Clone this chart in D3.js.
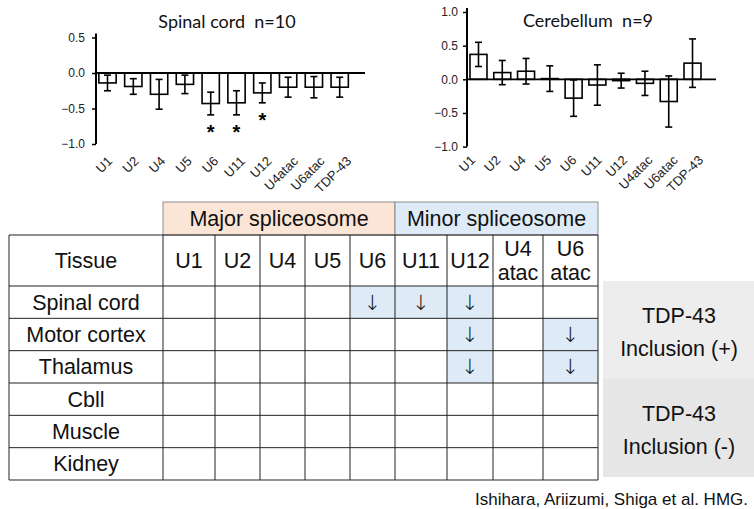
<!DOCTYPE html>
<html>
<head>
<meta charset="utf-8">
<script src="https://cdn.jsdelivr.net/npm/d3@7"></script>
<style>
  body { margin: 0; background: #fff; }
  svg text { font-family: "Liberation Sans", Arimo, Arial, Helvetica, sans-serif; }
  svg text.title { font-family: Lato, "Open Sans", sans-serif; white-space: pre; }
  svg text.arrow { font-family: "DejaVu Sans", sans-serif; }
</style>
</head>
<body>
<div id="chart"></div>
<script>
// --- data ---
const genes = ["U1", "U2", "U4", "U5", "U6", "U11", "U12", "U4atac", "U6atac", "TDP-43"];
const spinalMean = [-0.14, -0.19, -0.30, -0.16, -0.43, -0.42, -0.28, -0.20, -0.20, -0.20];
const spinalErr  = [0.11, 0.11, 0.21, 0.13, 0.16, 0.17, 0.14, 0.14, 0.15, 0.14];
const spinalSig  = [false, false, false, false, true, true, true, false, false, false];
const cbMean = [0.37, 0.10, 0.12, 0.01, -0.28, -0.085, -0.02, -0.06, -0.33, 0.24];
const cbErr  = [0.18, 0.18, 0.19, 0.19, 0.27, 0.30, 0.11, 0.18, 0.38, 0.36];
const spinalTicks = [0.5, 0.0, -0.5, -1.0];
const cbTicks = [1.0, 0.5, 0.0, -0.5, -1.0];

const tableCols = ["U1", "U2", "U4", "U5", "U6", "U11", "U12", "U4\natac", "U6\natac"];
const tissues = ["Spinal cord", "Motor cortex", "Thalamus", "Cbll", "Muscle", "Kidney"];
// which columns show a decrease, per tissue
const decreased = [
  ["U6", "U11", "U12"],
  ["U12", "U6\natac"],
  ["U12", "U6\natac"],
  [], [], []
];
const groups = [
  { name: "Major spliceosome", from: 0, to: 4, fill: "#fbe5d6" },
  { name: "Minor spliceosome", from: 5, to: 8, fill: "#deebf7" }
];
const inclusion = [
  { lines: ["TDP-43", "Inclusion (+)"], fill: "#ededed" },
  { lines: ["TDP-43", "Inclusion (-)"], fill: "#e6e6e6" }
];

const width = 754, height = 509;

const svg = d3.select("#chart").append("svg")
  .attr("width", width).attr("height", height)
  .attr("viewBox", `0 0 ${width} ${height}`);

// --- bar charts ---
function barChart(opt) {
  const g = svg.append("g");
  const x = d3.scaleBand().domain(genes).range(opt.xRange)
    .paddingInner(opt.pad).paddingOuter(opt.pad / 2);
  const xl = d3.scalePoint().domain(genes).range(opt.labelRange);
  const y = d3.scaleLinear().domain(opt.yDomain).range(opt.yRange);

  // y axis
  const yAxis = d3.axisLeft(y).tickValues(opt.ticks).tickFormat(d3.format(".1f"))
    .tickSize(4).tickPadding(opt.tickPad).tickSizeOuter(0);
  const ya = g.append("g").attr("transform", `translate(${opt.xRange[0] - opt.axisGap},0)`).call(yAxis);
  ya.select(".domain").remove();
  ya.attr("font-family", null);
  ya.append("line").attr("x1", 0).attr("x2", 0)
    .attr("y1", y(opt.yDomain[1]) - 4).attr("y2", y(opt.yDomain[0]))
    .attr("stroke", "#000").attr("stroke-width", 2);
  ya.selectAll(".tick line").attr("stroke-width", 1.5);
  ya.selectAll(".tick text").attr("font-size", 12).attr("fill", "#222");

  // bars
  g.selectAll("rect.bar").data(genes).join("rect").attr("class", "bar")
    .attr("x", d => x(d))
    .attr("width", x.bandwidth())
    .attr("y", (d, i) => y(Math.max(0, opt.mean[i])))
    .attr("height", (d, i) => Math.abs(y(opt.mean[i]) - y(0)))
    .attr("fill", "#fff").attr("stroke", "#000").attr("stroke-width", 1.6);

  // zero line
  g.append("line")
    .attr("x1", opt.xRange[0] - opt.axisGap).attr("x2", opt.zeroEnd)
    .attr("y1", y(0)).attr("y2", y(0))
    .attr("stroke", "#000").attr("stroke-width", 1.8);

  // error bars
  const eb = g.selectAll("g.err").data(genes).join("g").attr("class", "err");
  const cx = d => x(d) + x.bandwidth() / 2;
  eb.append("line")
    .attr("x1", cx).attr("x2", cx)
    .attr("y1", (d, i) => y(opt.mean[i] + opt.err[i]))
    .attr("y2", (d, i) => y(opt.mean[i] - opt.err[i]))
    .attr("stroke", "#000").attr("stroke-width", 1.6);
  [1, -1].forEach(s => {
    eb.append("line")
      .attr("x1", d => cx(d) - 3.5).attr("x2", d => cx(d) + 3.5)
      .attr("y1", (d, i) => y(opt.mean[i] + s * opt.err[i]))
      .attr("y2", (d, i) => y(opt.mean[i] + s * opt.err[i]))
      .attr("stroke", "#000").attr("stroke-width", 1.6);
  });

  // significance
  if (opt.sig) {
    g.selectAll("text.sig").data(genes.filter((d, i) => opt.sig[i])).join("text")
      .attr("class", "sig")
      .attr("x", cx)
      .attr("y", d => { const i = genes.indexOf(d); return y(opt.mean[i] - opt.err[i]) + 24; })
      .attr("text-anchor", "middle").attr("font-size", 20).attr("font-weight", "bold")
      .text("*");
  }

  // x labels
  g.selectAll("text.xl").data(genes).join("text").attr("class", "xl")
    .attr("transform", d => `translate(${xl(d)},${opt.labelY}) rotate(-45)`)
    .attr("text-anchor", "end").attr("font-size", 13).attr("fill", "#222")
    .text(d => d);

  g.append("text").attr("class", "title")
    .attr("x", opt.titleX).attr("y", opt.titleY)
    .attr("text-anchor", "middle")
    .attr("font-size", 18).attr("fill", "#111")
    .text(opt.title);
}

barChart({
  mean: spinalMean, err: spinalErr, sig: spinalSig, ticks: spinalTicks,
  xRange: [94.6, 352.6], pad: 0.33, labelRange: [113, 352], labelY: 162,
  yDomain: [-1, 0.5], yRange: [144, 37.5], axisGap: -1.4, tickPad: 7,
  zeroEnd: 365, title: "Spinal cord  n=10", titleX: 227, titleY: 28
});

barChart({
  mean: cbMean, err: cbErr, ticks: cbTicks,
  xRange: [466.6, 704.4], pad: 0.285, labelRange: [476, 704], labelY: 161,
  yDomain: [-1, 1], yRange: [146.6, 12], axisGap: -0.4, tickPad: 5,
  zeroEnd: 716, title: "Cerebellum  n=9", titleX: 588, titleY: 27
});

// --- table ---
const colW = [154, 52, 45, 45, 45, 45, 52, 46, 50, 55];
const colX = [9];
colW.forEach(w => colX.push(colX[colX.length - 1] + w));
const groupTop = 202, headTop = 235, headBottom = 286, tableBottom = 480;
const rowY = d3.scaleBand().domain(tissues).range([headBottom, tableBottom]);
const tfont = 21.5;

const t = svg.append("g");

// group headers
groups.forEach(gr => {
  const x0 = colX[gr.from + 1], x1 = colX[gr.to + 2];
  t.append("rect").attr("x", x0).attr("y", groupTop)
    .attr("width", x1 - x0).attr("height", headTop - groupTop)
    .attr("fill", gr.fill).attr("stroke", "#777").attr("stroke-width", 0.8);
  t.append("text").attr("x", (x0 + x1) / 2).attr("y", (groupTop + headTop) / 2)
    .attr("dy", "0.35em").attr("text-anchor", "middle").attr("font-size", tfont)
    .attr("fill", "#111").text(gr.name);
});

// highlighted cells
tissues.forEach((tis, r) => {
  decreased[r].forEach(c => {
    const ci = tableCols.indexOf(c);
    t.append("rect").attr("x", colX[ci + 1]).attr("y", rowY(tis))
      .attr("width", colW[ci + 1]).attr("height", rowY.bandwidth())
      .attr("fill", "#deebf7");
    t.append("text").attr("class", "arrow")
      .attr("x", colX[ci + 1] + colW[ci + 1] / 2)
      .attr("y", rowY(tis) + rowY.bandwidth() / 2).attr("dy", "0.35em")
      .attr("text-anchor", "middle").attr("font-size", 21).attr("font-weight", 200)
      .attr("fill", "#111")
      .text("\u2193");
  });
});

// grid lines
const lineC = "#222";
colX.forEach(x => {
  t.append("line").attr("x1", x).attr("x2", x).attr("y1", headTop).attr("y2", tableBottom)
    .attr("stroke", lineC).attr("stroke-width", 1);
});
[headTop, headBottom].concat(tissues.map(d => rowY(d) + rowY.bandwidth())).forEach(y => {
  t.append("line").attr("x1", colX[0]).attr("x2", colX[colX.length - 1]).attr("y1", y).attr("y2", y)
    .attr("stroke", lineC).attr("stroke-width", 1);
});

// header row text
t.append("text").attr("x", colX[0] + colW[0] / 2).attr("y", (headTop + headBottom) / 2)
  .attr("dy", "0.35em").attr("text-anchor", "middle").attr("font-size", tfont)
  .attr("fill", "#111").text("Tissue");
tableCols.forEach((c, i) => {
  const lines = c.split("\n");
  const cx = colX[i + 1] + colW[i + 1] / 2;
  const mid = (headTop + headBottom) / 2;
  lines.forEach((ln, k) => {
    t.append("text").attr("x", cx)
      .attr("y", mid + (k - (lines.length - 1) / 2) * 24)
      .attr("dy", "0.35em").attr("text-anchor", "middle").attr("font-size", tfont)
      .attr("fill", "#111").text(ln);
  });
});

// tissue names
t.selectAll("text.tissue").data(tissues).join("text").attr("class", "tissue")
  .attr("x", colX[0] + colW[0] / 2)
  .attr("y", d => rowY(d) + rowY.bandwidth() / 2).attr("dy", "0.35em")
  .attr("text-anchor", "middle").attr("font-size", tfont).attr("fill", "#111")
  .text(d => d);

// inclusion boxes
const boxY = d3.scaleBand().domain([0, 1]).range([281, 477]);
inclusion.forEach((b, i) => {
  t.append("rect").attr("x", 603).attr("y", boxY(i))
    .attr("width", width - 603).attr("height", boxY.bandwidth()).attr("fill", b.fill);
  b.lines.forEach((ln, k) => {
    t.append("text").attr("x", 679)
      .attr("y", boxY(i) + boxY.bandwidth() / 2 + (k - 0.5) * 33 + 2)
      .attr("dy", "0.35em").attr("text-anchor", "middle").attr("font-size", tfont)
      .attr("fill", "#111").text(ln);
  });
});

// citation
svg.append("text").attr("x", 748).attr("y", 505).attr("text-anchor", "end")
  .attr("font-size", 17).attr("fill", "#111")
  .text("Ishihara, Ariizumi, Shiga et al. HMG.");
</script>
</body>
</html>
